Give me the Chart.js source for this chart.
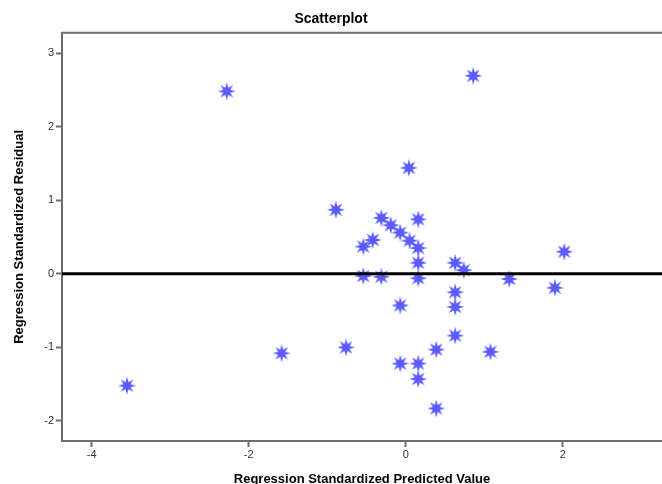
<!DOCTYPE html>
<html>
<head>
<meta charset="utf-8">
<script src="https://cdn.jsdelivr.net/npm/chart.js@4.4.0/dist/chart.umd.min.js"></script>
<style>
  html, body { margin: 0; padding: 0; background: #ffffff; }
  #wrap { width: 662px; height: 484px; }
</style>
</head>
<body>
<div id="wrap"><canvas id="c" width="662" height="484"></canvas></div>
<script>
// ---- data ----
const predicted = [
  -3.55, -2.28, -1.58, -0.89, -0.76, -0.54, -0.54, -0.42, -0.31, -0.31,
  -0.19, -0.07, -0.07, -0.07, 0.04, 0.05, 0.16, 0.16, 0.16, 0.16,
  0.16, 0.16, 0.39, 0.39, 0.63, 0.63, 0.63, 0.63, 0.74, 0.86,
  1.08, 1.32, 1.90, 2.02
];
const residual = [
  -1.52, 2.48, -1.08, 0.87, -1.00, 0.37, -0.03, 0.46, 0.76, -0.04,
  0.66, 0.56, -0.43, -1.22, 1.44, 0.45, 0.74, 0.35, 0.15, -0.06,
  -1.22, -1.43, -1.03, -1.83, 0.15, -0.25, -0.45, -0.84, 0.05, 2.69,
  -1.06, -0.07, -0.19, 0.30
];
const xTicks = [-4, -2, 0, 2];
const yTicks = [-2, -1, 0, 1, 2, 3];
const xRange = [-4.378, 3.265];
const yRange = [-2.272, 3.275];
const referenceY = 0;

const titleText = 'Scatterplot';
const xTitle = 'Regression Standardized Predicted Value';
const yTitle = 'Regression Standardized Residual';

// ---- star marker (8-pointed) ----
function makeStar(outer, inner, color) {
  const size = Math.ceil(outer * 2 + 2);
  const cv = document.createElement('canvas');
  cv.width = size; cv.height = size;
  const g = cv.getContext('2d');
  const c = size / 2;
  g.beginPath();
  for (let i = 0; i < 16; i++) {
    const r = (i % 2 === 0) ? outer : inner;
    const a = -Math.PI / 2 + i * Math.PI / 8;
    const px = c + r * Math.cos(a), py = c + r * Math.sin(a);
    if (i === 0) g.moveTo(px, py); else g.lineTo(px, py);
  }
  g.closePath();
  g.fillStyle = color;
  g.fill();
  return cv;
}
const star = makeStar(9, 3.8, '#5a5aff');

const points = predicted.map((x, i) => ({ x: x, y: residual[i] }));
const refLine = [{ x: xRange[0], y: referenceY }, { x: xRange[1], y: referenceY }];

const FONT = "'Liberation Sans', Arial, sans-serif";
const axisColor = '#6e6e6e';

const frameTop = {
  id: 'frameTop',
  afterDraw(chart) {
    const { ctx, chartArea } = chart;
    ctx.save();
    ctx.strokeStyle = axisColor;
    ctx.lineWidth = 2;
    ctx.beginPath();
    ctx.moveTo(chartArea.left, chartArea.top);
    ctx.lineTo(chartArea.right, chartArea.top);
    ctx.stroke();
    ctx.restore();
  }
};

new Chart(document.getElementById('c'), {
  data: {
    datasets: [
      {
        type: 'line',
        data: refLine,
        borderColor: '#000000',
        borderWidth: 3,
        pointRadius: 0,
        fill: false,
        order: 0
      },
      {
        type: 'scatter',
        data: points,
        pointStyle: star,
        pointRadius: 9,
        order: 1
      }
    ]
  },
  options: {
    responsive: false,
    animation: false,
    layout: { padding: 0, autoPadding: false },
    plugins: {
      legend: { display: false },
      tooltip: { enabled: false },
      title: {
        display: true,
        text: titleText,
        color: '#000000',
        font: { family: FONT, size: 14, weight: 'bold' },
        padding: { top: 11, bottom: 5 }
      }
    },
    scales: {
      x: {
        type: 'linear',
        min: xRange[0],
        max: xRange[1],
        afterBuildTicks(scale) { scale.ticks = xTicks.map(v => ({ value: v })); },
        afterFit(scale) { scale.height = 43; },
        border: { display: true, color: axisColor, width: 2 },
        grid: { drawOnChartArea: false, drawTicks: true, tickLength: 6, color: axisColor, tickWidth: 2 },
        ticks: {
          color: '#333333',
          font: { family: FONT, size: 11 },
          padding: 1,
          maxRotation: 0,
          callback: v => String(v)
        },
        title: {
          display: true,
          text: xTitle,
          color: '#000000',
          font: { family: FONT, size: 13, weight: 'bold' },
          padding: { top: 0, bottom: -3 }
        }
      },
      y: {
        type: 'linear',
        min: yRange[0],
        max: yRange[1],
        afterBuildTicks(scale) { scale.ticks = yTicks.map(v => ({ value: v })); },
        afterFit(scale) { scale.width = 62; },
        border: { display: true, color: axisColor, width: 2 },
        grid: { drawOnChartArea: false, drawTicks: true, tickLength: 6, color: axisColor, tickWidth: 2 },
        ticks: {
          color: '#333333',
          font: { family: FONT, size: 11 },
          padding: 2,
          callback: v => String(v)
        },
        title: {
          display: true,
          text: yTitle,
          color: '#000000',
          font: { family: FONT, size: 13, weight: 'bold' },
          padding: { top: 12, bottom: 0 }
        }
      }
    }
  },
  plugins: [frameTop]
});
</script>
</body>
</html>
